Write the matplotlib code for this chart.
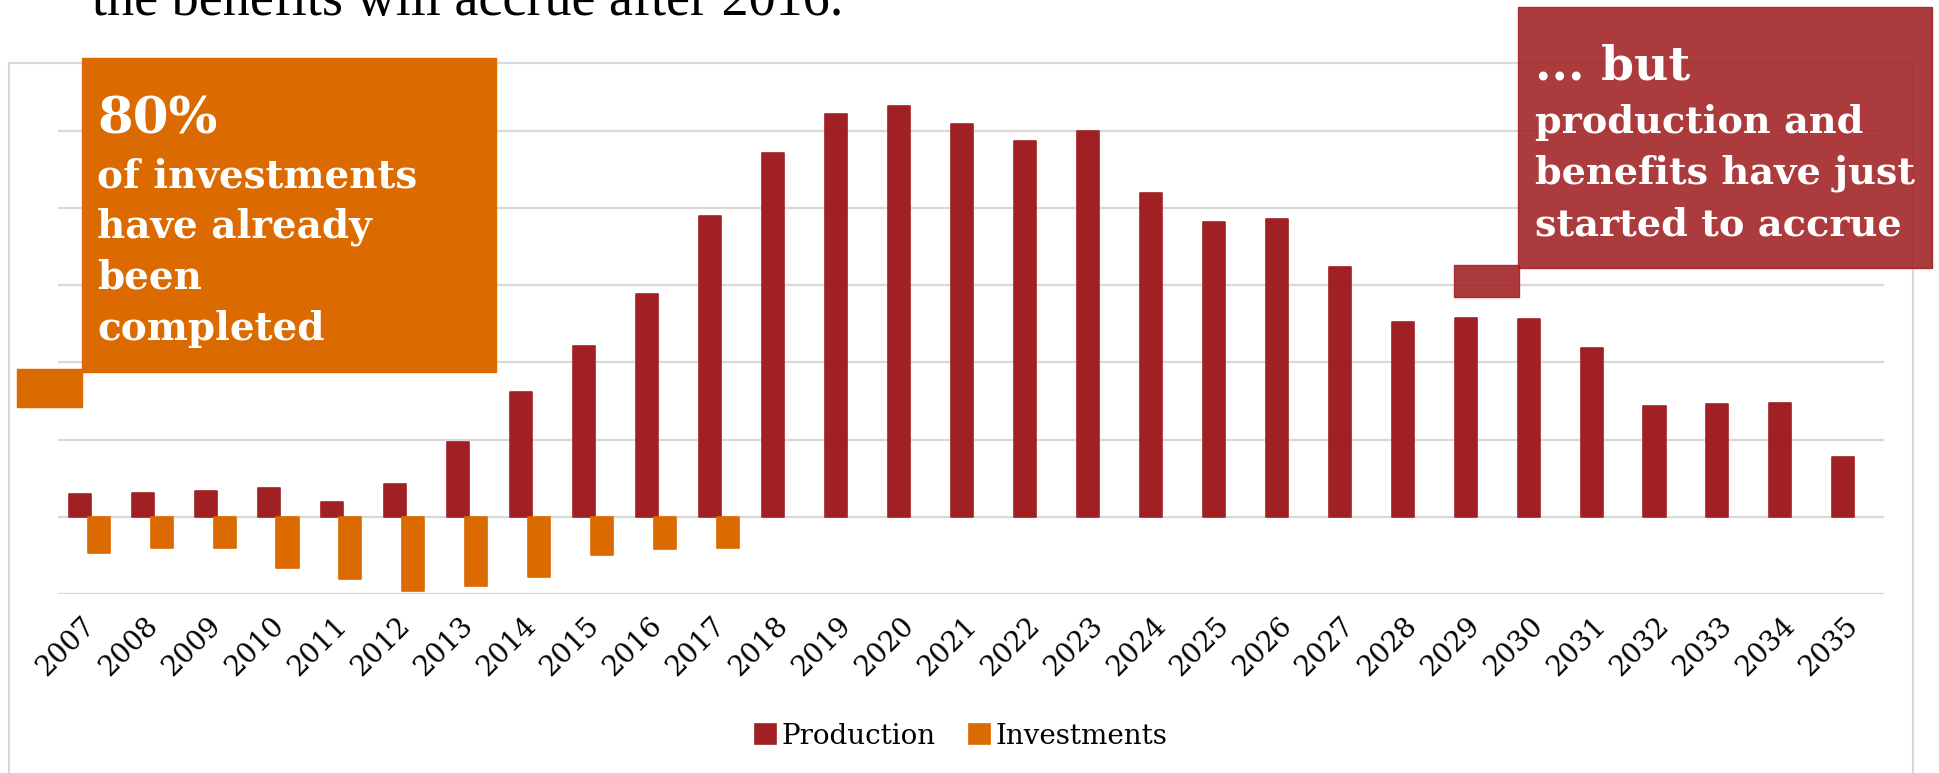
import matplotlib.pyplot as plt
from matplotlib.patches import Rectangle
from matplotlib.transforms import ScaledTranslation
import numpy as np

# Production and investment profile per year (arbitrary units)
years = [str(y) for y in range(2007, 2036)]
production = [0.30, 0.31, 0.33, 0.37, 0.19, 0.43, 0.97, 1.62, 2.21, 2.89,
              3.90, 4.71, 5.22, 5.32, 5.09, 4.87, 5.00, 4.19, 3.82, 3.86,
              3.23, 2.52, 2.57, 2.56, 2.19, 1.43, 1.46, 1.47, 0.77]
investments = [-0.47, -0.40, -0.40, -0.66, -0.81, -0.96, -0.89, -0.78,
               -0.50, -0.42, -0.40]

RED = "#A12023"
ORANGE = "#DB6A00"
GRID = "#D9D9D9"

W, H = 1939, 773
fig = plt.figure(figsize=(W / 100, H / 100), dpi=100)


def fx(px):
    return px / W


def fy(py):
    # pixel row from the top -> figure fraction from the bottom
    return 1 - py / H


# chart frame
fig.patches.append(Rectangle((fx(9), -0.02), fx(1913 - 9), fy(63) + 0.02,
                             transform=fig.transFigure, fill=False,
                             edgecolor=GRID, linewidth=1.5, zorder=0))

ymin, ymax = -1, 5.6
unit = 77.2
ax = fig.add_axes([fx(58), fy(594), fx(1884 - 58), (ymax - ymin) * unit / H])

x = np.arange(len(years))
ax.bar(x - 0.145, production, width=0.35, color=RED, edgecolor=RED,
       linewidth=1.2, joinstyle="round", label="Production", zorder=3)
ax.bar(x[:len(investments)] + 0.145, investments, width=0.35, color=ORANGE,
       edgecolor=ORANGE, linewidth=1.2, joinstyle="round",
       label="Investments", zorder=3)

ax.set_xlim(-0.5, len(years) - 0.5)
ax.set_ylim(ymin, ymax)
ax.set_yticks(range(-1, 6))
ax.yaxis.grid(True, color=GRID, linewidth=1.6)
ax.set_axisbelow(True)
ax.tick_params(axis="y", length=0, labelleft=False)
ax.set_xticks(x)
ax.set_xticklabels(years, rotation=45, ha="right", va="top",
                   family="DejaVu Serif", fontsize=20)
ax.tick_params(axis="x", length=0, pad=13)
# nudge the slanted year labels so their upper end sits under the bars
shift = ScaledTranslation(0.11, 0, fig.dpi_scale_trans)
for lbl in ax.get_xticklabels():
    lbl.set_transform(lbl.get_transform() + shift)
for s in ax.spines.values():
    s.set_visible(False)

fig.legend(loc="center", bbox_to_anchor=(fx(961), fy(736)), ncol=2,
           frameon=False, prop={"family": "DejaVu Serif", "size": 20},
           handlelength=0.75, handleheight=0.75, handletextpad=0.2,
           columnspacing=1.2)

# heading line running off the top edge
fig.text(fx(92), fy(15), "the benefits will accrue after 2016.",
         family="Liberation Serif", fontsize=39, color="black",
         va="baseline", ha="left")

# callout boxes
fig.patches.append(Rectangle((fx(82), fy(372)), fx(496 - 82), (372 - 58) / H,
                             transform=fig.transFigure, color=ORANGE, zorder=5))
fig.patches.append(Rectangle((fx(17), fy(407)), fx(82 - 17), (407 - 369) / H,
                             transform=fig.transFigure, color=ORANGE, zorder=5))
fig.patches.append(Rectangle((fx(1518), fy(268)), fx(1932 - 1518), (268 - 7) / H,
                             transform=fig.transFigure, color=RED, alpha=0.88,
                             zorder=5))
fig.patches.append(Rectangle((fx(1454), fy(297)), fx(1519 - 1454), (297 - 265) / H,
                             transform=fig.transFigure, color=RED, alpha=0.88,
                             zorder=5))

box_font = dict(family="DejaVu Serif", weight="bold", color="white",
                va="baseline", ha="left", zorder=6)
fig.text(fx(97), fy(133), "80%", fontsize=37, **box_font)
for line, base in zip(["of investments", "have already", "been", "completed"],
                      [187, 237, 288, 340]):
    fig.text(fx(97), fy(base), line, fontsize=28, **box_font)

fig.text(fx(1535), fy(80), "... but", fontsize=34, **box_font)
for line, base in zip(["production and", "benefits have just",
                       "started to accrue"], [133, 184, 235]):
    fig.text(fx(1535), fy(base), line, fontsize=27.5, **box_font)

fig.savefig("out.png", dpi=100)
